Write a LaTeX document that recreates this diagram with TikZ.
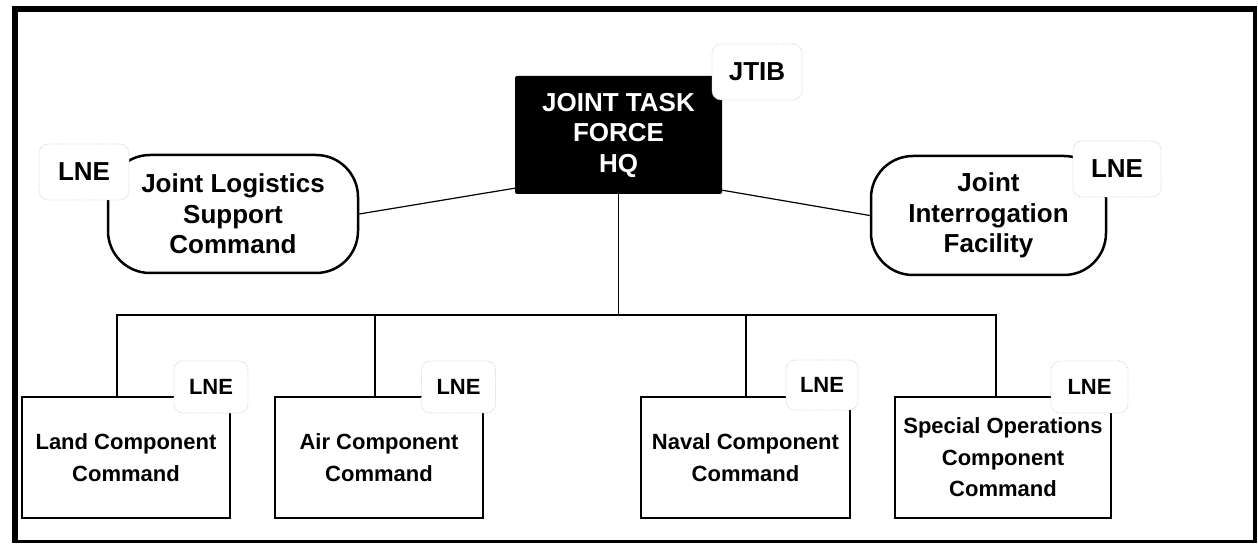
\documentclass[tikz,border=0pt]{standalone}
\usepackage{fontspec}
\setmainfont{Liberation Sans}
\usetikzlibrary{calc}
\begin{document}
\begin{tikzpicture}[x=1pt,y=1pt,
  big/.style={font=\fontsize{26}{30.5}\selectfont\bfseries},
  small/.style={font=\fontsize{22}{31.5}\selectfont\bfseries},
  unit/.style={draw, line width=2.7pt, minimum height=121pt, align=center, inner sep=0pt, small},
  oval/.style={draw, line width=2.5pt, rounded corners=42pt, align=center, big, inner sep=0pt},
  hqbox/.style={fill=black, text=white, minimum width=207pt, minimum height=118pt, align=center, big, inner sep=0pt, rounded corners=2pt},
  tag/.style={fill=white, rounded corners=9pt, inner sep=0pt, draw=gray!35, densely dotted, line width=0.8pt},
  toptag/.style={tag, big, minimum width=90pt, minimum height=56pt},
  boxtag/.style={tag, small, minimum width=74pt, minimum height=52pt},
  link/.style={line width=1.2pt},
]
\useasboundingbox (0,0) rectangle (1258,546);
% frame
\draw[line width=6pt] (12,537) -- (1256,537);
\draw[line width=6pt] (15,540) -- (15,3);
\draw[line width=3.5pt] (1255,540) -- (1255,3);
\draw[line width=3pt] (13,4) -- (1257,4);

% nodes
\node[hqbox] (hq) at (618.5,411) {JOINT TASK\\FORCE\\HQ};
\node[oval, minimum width=250pt, minimum height=118pt] (jlsc) at (233,332) {Joint Logistics\\Support\\Command};
\node[oval, minimum width=235pt, minimum height=119pt] (jif) at (988.5,330.5) {Joint\\Interrogation\\Facility};

\node[unit, minimum width=208pt] (land) at (126,88.5) {Land Component\\Command};
\node[unit, minimum width=208pt] (air) at (379,88.5) {Air Component\\Command};
\node[unit, minimum width=209pt] (naval) at (745.5,88.5) {Naval Component\\Command};
\node[unit, minimum width=216pt] (spec) at (1003,88.5) {Special Operations\\Component\\Command};

% tags
\node[toptag] (tjtib) at (757,474) {JTIB};
\node[toptag] (tl1) at (84,374) {LNE};
\node[toptag, minimum width=88pt] (tl2) at (1117,377) {LNE};
\node[boxtag] (tland) at (211,159) {LNE};
\node[boxtag] (tair) at (458.5,159) {LNE};
\node[boxtag, minimum width=72pt, minimum height=50pt] (tnaval) at (822,161) {LNE};
\node[boxtag, minimum width=77pt] (tspec) at (1089.5,159) {LNE};

% connectors
\coordinate (bus) at (0,231);
\coordinate (dl) at ($(land.north)+(-9,0)$);
\coordinate (da) at ($(air.north)+(-4,0)$);
\coordinate (dn) at ($(naval.north)+(0.5,0)$);
\coordinate (ds) at ($(spec.north)+(-7,0)$);
\draw[link] (jlsc.east) -- ($(hq.south west)+(0,6)$);
\draw[link] ($(hq.south east)+(0,4)$) -- (jif.west);
\draw[link] (hq.south) -- (hq.south |- bus);
\draw[link] (dl) -- (dl |- bus) -- (ds |- bus) -- (ds);
\draw[link] (da) -- (da |- bus);
\draw[link] (dn) -- (dn |- bus);
\end{tikzpicture}
\end{document}
